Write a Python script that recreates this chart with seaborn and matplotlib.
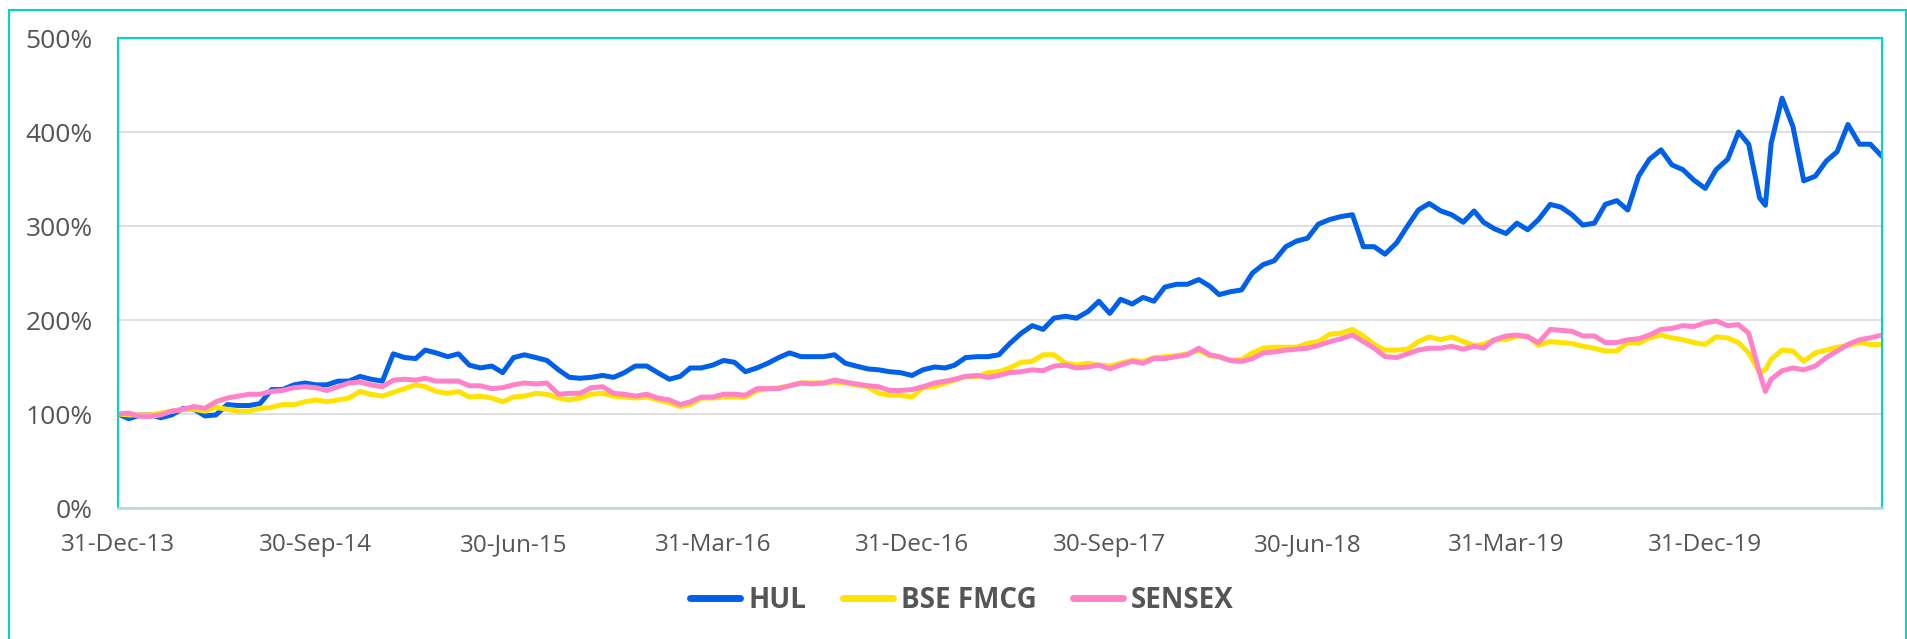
import pandas as pd
import numpy as np
import matplotlib
matplotlib.use("Agg")
import matplotlib.pyplot as plt
import matplotlib.dates as mdates
from matplotlib.patches import Rectangle
from matplotlib.ticker import FuncFormatter
import seaborn as sns

# month-end dates, 31-Dec-13 .. 31-Aug-20, and mid-month dates 15-Jan-14 .. 15-Aug-20
month_ends = pd.date_range("2013-12-31", "2020-08-31", freq="ME")
mid_months = pd.date_range("2014-01-01", "2020-08-01", freq="MS") + pd.Timedelta(days=14)

# values (% of starting value), month ends
hul = [100, 99, 96, 106, 98, 110, 109, 126, 131, 131, 135, 140, 135, 160, 168, 161, 152, 151, 160, 160, 147,
       138, 141, 144, 151, 137, 149, 152, 155, 149, 160, 161, 161, 154, 148, 145, 141, 150, 152, 161, 163,
       186, 190, 204, 209, 207, 217, 220, 238, 243, 227, 232, 259, 278, 287, 307, 312, 278, 282, 317, 316,
       304, 304, 292, 296, 323, 312, 303, 327, 353, 381, 360, 340, 371, 387, 388, 406, 353, 379, 387, 374]
bse_fmcg = [100, 99, 101, 105, 103, 105, 103, 107, 110, 115, 115, 124, 119, 127, 129, 122, 118, 117, 118, 122, 117,
            117, 122, 118, 118, 112, 110, 117, 118, 125, 128, 133, 133, 133, 129, 120, 118, 129, 136, 140, 145,
            155, 163, 154, 154, 151, 157, 160, 162, 168, 161, 158, 170, 171, 175, 185, 190, 174, 168, 177, 179,
            177, 174, 179, 183, 177, 175, 170, 167, 175, 184, 179, 174, 181, 165, 158, 167, 165, 171, 176, 174]
sensex = [100, 97.5, 99, 105, 106, 117, 121, 124, 128, 128, 129, 134, 129, 137, 138, 135, 130, 127, 131, 132, 121,
          122, 129, 121, 121, 115, 113, 118, 121, 127, 127, 133, 133, 134, 130, 125, 126, 133, 137, 141, 141,
          145, 146, 152, 150, 148, 156, 159, 161, 170, 161, 156, 165, 168, 170, 177, 184, 170, 160, 168, 170,
          169, 170, 183, 182, 190, 188, 183, 176, 180, 190, 194, 197, 194, 186, 137, 149, 151, 167, 179, 184]

# mid-month readings
hul_mid = [95, 99, 99, 105, 99, 109, 111, 126, 133, 131, 135, 137, 164, 159, 165, 164, 149, 144, 163, 157, 139,
           139, 139, 151, 144, 140, 149, 157, 145, 154, 165, 161, 163, 151, 147, 144, 147, 149, 160, 161, 175,
           194, 202, 202, 220, 222, 224, 235, 238, 236, 230, 250, 263, 284, 302, 310, 278, 270, 300, 324, 312,
           316, 297, 303, 307, 320, 301, 323, 317, 371, 365, 349, 360, 400, 330, 436, 348, 369, 408, 387]
bse_fmcg_mid = [99, 99, 103, 105, 107, 103, 106, 110, 113, 113, 117, 121, 123, 131, 124, 124, 119, 113, 119, 121, 115,
                121, 119, 117, 115, 108, 117, 118, 118, 127, 130, 133, 134, 131, 122, 120, 128, 133, 140, 144, 149,
                156, 163, 152, 152, 154, 156, 161, 164, 162, 157, 165, 171, 171, 177, 186, 183, 168, 169, 182, 182,
                173, 179, 183, 173, 176, 172, 167, 176, 181, 181, 176, 182, 176, 144, 168, 156, 168, 173, 174]
sensex_mid = [101, 97.5, 103, 108, 113, 119, 121, 125, 129, 125, 133, 131, 136, 136, 135, 135, 130, 128, 133, 133, 122,
              128, 122, 119, 117, 110, 118, 121, 120, 127, 130, 132, 136, 132, 129, 125, 129, 135, 140, 139, 144,
              147, 151, 149, 152, 152, 154, 159, 163, 163, 157, 159, 166, 169, 173, 180, 177, 161, 164, 170, 172,
              172, 179, 184, 176, 189, 183, 176, 179, 184, 191, 193, 199, 195, 144, 146, 147, 160, 174, 181]

# March 2020 low
extra_dates = pd.to_datetime(["2020-03-23"])
extra_hul = [322]
extra_bse = [147]
extra_sensex = [124]

tick_dates = pd.to_datetime(["2013-12-31", "2014-09-30", "2015-06-30", "2016-03-31", "2016-12-31",
                             "2017-09-30", "2018-06-30", "2019-03-31", "2019-12-31"])

series_names = ["HUL", "BSE FMCG", "SENSEX"]
colors = ["#0060EA", "#FFE300", "#FF82C8"]

wide = pd.DataFrame({"date": list(month_ends) + list(mid_months) + list(extra_dates),
                     "HUL": hul + hul_mid + extra_hul,
                     "BSE FMCG": bse_fmcg + bse_fmcg_mid + extra_bse,
                     "SENSEX": sensex + sensex_mid + extra_sensex}).sort_values("date")
df = wide.melt(id_vars="date", var_name="series", value_name="value")

sns.set_style("white")
plt.rcParams["font.family"] = ["Open Sans", "DejaVu Sans"]

teal = "#00D6C6"
text_col = "#555555"

fig = plt.figure(figsize=(19.08, 6.39), dpi=100)
ax = fig.add_axes([118 / 1908, 1 - 508 / 639, (1882 - 118) / 1908, (508 - 38) / 639])

sns.lineplot(data=df, x="date", y="value", hue="series", hue_order=series_names,
             palette=colors, linewidth=3.6, ax=ax, legend=False)

ax.set_ylim(0, 500)
ax.set_xlim(pd.Timestamp("2013-12-31"), pd.Timestamp("2020-08-31"))
ax.set_yticks([0, 100, 200, 300, 400, 500])
ax.yaxis.set_major_formatter(FuncFormatter(lambda v, p: f"{v:.0f}%"))
ax.set_xticks(tick_dates)
ax.xaxis.set_major_formatter(mdates.DateFormatter("%d-%b-%y"))
ax.set_xlabel("")
ax.set_ylabel("")

ax.grid(axis="y", color="#D9D9D9", linewidth=1.2)
ax.grid(axis="x", visible=False)
ax.set_axisbelow(True)

for side in ["left", "top", "right"]:
    ax.spines[side].set_color(teal)
    ax.spines[side].set_linewidth(1.5)
ax.spines["bottom"].set_color("#B5D8D8")
ax.spines["bottom"].set_linewidth(1.8)

ax.tick_params(axis="y", length=0, pad=18, labelsize=19, labelcolor=text_col)
ax.tick_params(axis="x", length=7, width=1.2, color="#D9D9D9", pad=11, labelsize=17.5, labelcolor=text_col)

handles = [plt.Line2D([0], [0], color=c, linewidth=5, solid_capstyle="round") for c in colors]
fig.legend(handles, series_names, loc="center", bbox_to_anchor=(962 / 1908, 1 - 600 / 639),
           ncol=3, frameon=False, handlelength=1.8, handletextpad=0.3, columnspacing=1.3,
           prop={"size": 20, "weight": "bold"}, labelcolor=text_col)

fig.add_artist(Rectangle((9 / 1908, -0.05), 1897 / 1908, 1.05 - 10 / 639, transform=fig.transFigure,
                         fill=False, edgecolor=teal, linewidth=1.5))

plt.savefig("out.png", dpi=100)
